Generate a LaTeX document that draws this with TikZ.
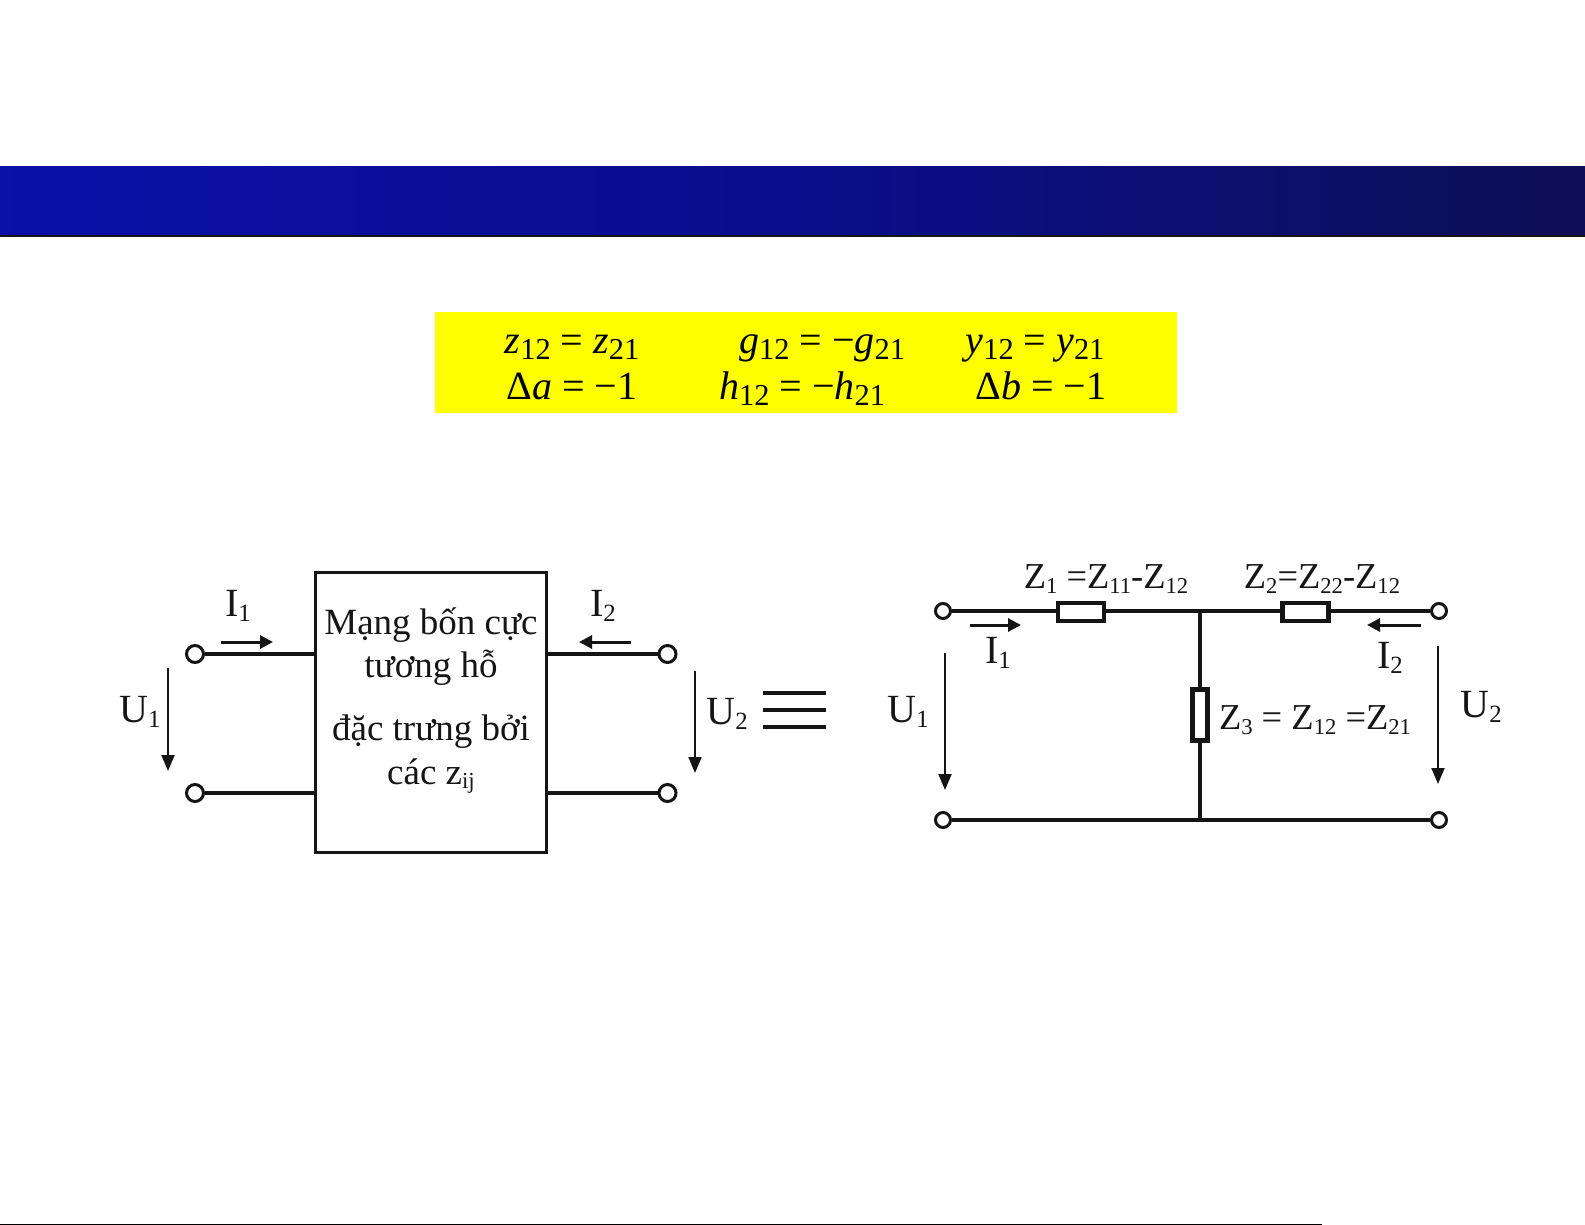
\documentclass[tikz,border=0pt]{standalone}
\usepackage{fontspec}
\setmainfont{Liberation Serif}
\usetikzlibrary{arrows.meta}
\definecolor{ink}{HTML}{151515}
\definecolor{barL}{HTML}{0A10A8}
\definecolor{barM}{HTML}{0A0E8C}
\definecolor{barR}{HTML}{0E0F55}
\definecolor{panelY}{HTML}{FFFF00}
\newcommand{\subs}[1]{\raisebox{-.28ex}{\scalebox{.62}{#1}}}
\newcommand{\msub}[1]{\raisebox{-.35ex}{\scalebox{.76}{\upshape #1}}}
\tikzset{
  x=1pt,y=-1pt,
  term/.style={circle,draw=ink,fill=white,line width=3pt,minimum size=17pt,inner sep=0pt},
  wire/.style={draw=ink,line width=3.2pt},
  res/.style={rectangle,draw=ink,fill=white,line width=4.4pt,inner sep=0pt},
  volt/.style={draw=ink,line width=2pt,-{Triangle[length=16pt,width=13pt]}},
  curr/.style={draw=ink,line width=3pt,-{Triangle[length=13pt,width=13pt]}},
  lbl/.style={inner sep=0pt,text=ink,font=\fontsize{40pt}{40pt}\selectfont},
  zlbl/.style={inner sep=0pt,text=ink,font=\fontsize{36.5pt}{36.5pt}\selectfont},
  boxt/.style={inner sep=0pt,text=ink,font=\fontsize{37pt}{37pt}\selectfont},
  eqn/.style={inner sep=0pt,anchor=base,text=black,font=\fontsize{40pt}{40pt}\selectfont\itshape},
}
\begin{document}
\begin{tikzpicture}
\useasboundingbox (0,0) rectangle (1585,1225);
% title band
\shade[left color=barL,right color=barR,middle color=barM] (0,167) rectangle (1585,236);
\draw[ink,line width=1.2pt] (0,236) -- (1585,236);
% footer rule
\coordinate (fa) at (0,1224.5);
\coordinate (fb) at (1322,1224.5);
\draw[black,line width=1.5pt] (fa) -- (fb);
% yellow panel
\node[rectangle,fill=panelY,inner sep=0pt,minimum width=742pt,minimum height=101pt] (panel) at (806,362.5) {};
\node[eqn] (e1) at (572,353) {z\msub{12} \upshape= \itshape z\msub{21}};
\node[eqn] (e2) at (822,353) {g\msub{12} \upshape= −\itshape g\msub{21}};
\node[eqn] (e3) at (1035,353) {y\msub{12} \upshape= \itshape y\msub{21}};
\node[eqn] (e4) at (572,399) {\upshape Δ\itshape a \upshape= −1};
\node[eqn] (e5) at (802,399) {h\msub{12} \upshape= −\itshape h\msub{21}};
\node[eqn] (e6) at (1041,399) {\upshape Δ\itshape b \upshape= −1};
% left two-port
\node[rectangle,draw=ink,line width=3pt,minimum width=231pt,minimum height=280pt,inner sep=0pt] (box) at (431,712) {};
\node[boxt] (t1) at (431,625) {Mạng bốn cực};
\node[boxt] (t2) at (431,668) {tương hỗ};
\node[boxt] (t3) at (431,732) {đặc trưng bởi};
\node[boxt] (t4) at (431,776) {các z\subs{ij}};
\node[term] (la) at (195,654) {};
\node[term] (lb) at (195,793) {};
\node[term] (ra) at (667.5,654) {};
\node[term] (rb) at (667.5,793) {};
\draw[wire] (la) -- (box.west |- la);
\draw[wire] (lb) -- (box.west |- lb);
\draw[wire] (ra) -- (box.east |- ra);
\draw[wire] (rb) -- (box.east |- rb);
\coordinate (i1s) at (221,642); \coordinate (i1e) at (273,642);
\coordinate (i2s) at (631,642); \coordinate (i2e) at (579,642);
\coordinate (u1s) at (168,668); \coordinate (u1e) at (168,771);
\coordinate (u2s) at (695,671); \coordinate (u2e) at (695,773);
\draw[curr] (i1s) -- (i1e);
\draw[curr] (i2s) -- (i2e);
\draw[volt] (u1s) -- (u1e);
\draw[volt] (u2s) -- (u2e);
\node[lbl] (li1) at (238,606) {I\subs{1}};
\node[lbl] (li2) at (603,606) {I\subs{2}};
\node[lbl] (lu1) at (140,712) {U\subs{1}};
\node[lbl] (lu2) at (727,714) {U\subs{2}};
% equivalence sign
\foreach \n/\y in {a/693,b/710,c/727}{
  \coordinate (q\n l) at (763,\y); \coordinate (q\n r) at (826,\y);
  \draw[ink,line width=3.2pt] (q\n l) -- (q\n r);
}
% T network
\node[term,minimum size=15pt] (ta) at (943,611) {};
\node[term,minimum size=15pt] (tb) at (943,820) {};
\node[term,minimum size=15pt] (tc) at (1439,611) {};
\node[term,minimum size=15pt] (td) at (1439,820) {};
\coordinate (j1) at (1200,612);
\coordinate (j2) at (1200,820);
\draw[wire] (ta) -- (tc);
\draw[wire] (tb) -- (td);
\draw[wire] (j1) -- (j2);
\node[res,minimum width=46pt,minimum height=18pt] (r1) at (1081,612) {};
\node[res,minimum width=46pt,minimum height=18pt] (r2) at (1305.5,612) {};
\node[res,minimum width=15pt,minimum height=51pt] (r3) at (1200,715) {};
\coordinate (a1s) at (970,625); \coordinate (a1e) at (1021,625);
\coordinate (a2s) at (1421,625); \coordinate (a2e) at (1367,625);
\coordinate (a3s) at (945,653); \coordinate (a3e) at (945,790);
\coordinate (a4s) at (1438,646); \coordinate (a4e) at (1438,784);
\draw[curr] (a1s) -- (a1e);
\draw[curr] (a2s) -- (a2e);
\draw[volt] (a3s) -- (a3e);
\draw[volt] (a4s) -- (a4e);
\node[zlbl] (z1) at (1106,579) {Z\subs{1} =Z\subs{11}-Z\subs{12}};
\node[zlbl] (z2) at (1322,579) {Z\subs{2}=Z\subs{22}-Z\subs{12}};
\node[zlbl] (z3) at (1315,720) {Z\subs{3} = Z\subs{12} =Z\subs{21}};
\node[lbl] (ti1) at (998,653) {I\subs{1}};
\node[lbl] (ti2) at (1390,658) {I\subs{2}};
\node[lbl] (tu1) at (908,712) {U\subs{1}};
\node[lbl] (tu2) at (1481,707) {U\subs{2}};
\end{tikzpicture}
\end{document}
